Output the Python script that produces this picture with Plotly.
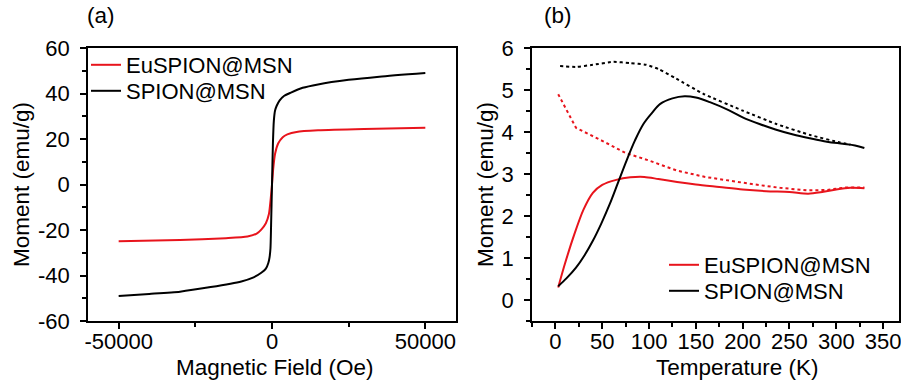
import plotly.graph_objects as go

# ---------------- Panel (a): hysteresis ----------------
field_spion = [-50000, -40000, -30000, -20000, -10000, -6000, -3500, -2000, -1200, -800, -500, -300, 0,
               300, 600, 1000, 1500, 2500, 4000, 6000, 10000, 15000, 25000, 35000, 50000]
moment_spion = [-49.0, -48.1, -47.1, -45.1, -42.6, -40.8, -38.8, -37.0, -34.5, -32.0, -28.0, -18.0, 0.0,
                18.0, 28.0, 32.5, 34.5, 37.0, 39.0, 40.3, 42.5, 44.0, 46.0, 47.4, 49.0]

field_eu = [-50000, -30000, -15000, -8000, -5000, -3500, -2000, -1000, -400, 0,
            400, 1000, 2000, 3500, 5000, 8000, 15000, 30000, 50000]
moment_eu = [-24.9, -24.4, -23.6, -22.9, -21.6, -19.8, -17.0, -13.0, -6.0, 0.0,
             7.0, 13.5, 18.0, 20.8, 22.0, 23.1, 23.8, 24.4, 24.9]

a_xticks = [-50000, 0, 50000]
a_xticktext = ["-50000", "0", "50000"]
a_yticks = [-60, -40, -20, 0, 20, 40, 60]
a_yticktext = ["-60", "-40", "-20", "0", "20", "40", "60"]

# ---------------- Panel (b): ZFC / FC ----------------
t_eu_zfc = [3, 10, 20, 30, 40, 50, 65, 80, 95, 110, 130, 150, 175, 200, 225, 250, 270, 285, 300, 315, 330]
m_eu_zfc = [0.3, 0.85, 1.55, 2.15, 2.55, 2.74, 2.86, 2.92, 2.93, 2.88, 2.81, 2.75, 2.69, 2.63, 2.59, 2.57,
            2.53, 2.57, 2.63, 2.67, 2.66]

t_eu_fc = [3, 22, 50, 75, 100, 130, 160, 185, 210, 240, 270, 290, 310, 330]
m_eu_fc = [4.9, 4.1, 3.79, 3.5, 3.32, 3.08, 2.93, 2.84, 2.76, 2.67, 2.61, 2.62, 2.68, 2.68]

t_sp_zfc = [3, 12, 22, 31, 40, 49, 58, 67, 76, 85, 94, 103, 112, 125, 138, 150, 165, 185, 200, 218, 235,
            254, 272, 290, 307, 320, 330]
m_sp_zfc = [0.33, 0.52, 0.77, 1.06, 1.41, 1.82, 2.28, 2.8, 3.32, 3.8, 4.19, 4.45, 4.67, 4.8, 4.85, 4.82, 4.71,
            4.52, 4.35, 4.19, 4.06, 3.94, 3.85, 3.77, 3.72, 3.68, 3.62]

t_sp_fc = [5, 22, 40, 62, 80, 97, 110, 129, 158, 200, 236, 272, 304, 315]
m_sp_fc = [5.57, 5.55, 5.6, 5.67, 5.64, 5.6, 5.5, 5.27, 4.91, 4.51, 4.19, 3.93, 3.75, 3.7]

b_xticks = [0, 50, 100, 150, 200, 250, 300, 350]
b_yticks = [0, 1, 2, 3, 4, 5, 6]

RED = "#e8141c"
BLACK = "#000000"
FONT = "Liberation Sans, Arial, sans-serif"

fig = go.Figure()

fig.add_trace(go.Scatter(x=field_eu, y=moment_eu, mode="lines", name="EuSPION@MSN",
                         line=dict(color=RED, width=2, shape="spline", smoothing=0.6),
                         xaxis="x", yaxis="y", legend="legend"))
fig.add_trace(go.Scatter(x=field_spion, y=moment_spion, mode="lines", name="SPION@MSN",
                         line=dict(color=BLACK, width=2, shape="spline", smoothing=0.6),
                         xaxis="x", yaxis="y", legend="legend3"))

fig.add_trace(go.Scatter(x=t_eu_fc, y=m_eu_fc, mode="lines", showlegend=False,
                         line=dict(color=RED, width=2, dash="dot"),
                         xaxis="x2", yaxis="y2"))
fig.add_trace(go.Scatter(x=t_sp_fc, y=m_sp_fc, mode="lines", showlegend=False,
                         line=dict(color=BLACK, width=2, dash="dot", shape="spline", smoothing=0.5),
                         xaxis="x2", yaxis="y2"))
fig.add_trace(go.Scatter(x=t_eu_zfc, y=m_eu_zfc, mode="lines", name="EuSPION@MSN",
                         line=dict(color=RED, width=2, shape="spline", smoothing=0.8),
                         xaxis="x2", yaxis="y2", legend="legend2"))
fig.add_trace(go.Scatter(x=t_sp_zfc, y=m_sp_zfc, mode="lines", name="SPION@MSN",
                         line=dict(color=BLACK, width=2, shape="spline", smoothing=1.0),
                         xaxis="x2", yaxis="y2", legend="legend4"))

axis_common = dict(showline=True, linecolor="black", linewidth=1.5, mirror=True,
                   ticks="outside", ticklen=6, tickwidth=1.5, tickcolor="black",
                   showgrid=False, zeroline=False, automargin=False, ticklabeloverflow="allow",
                   tickfont=dict(family=FONT, size=22, color="black"))
minor_common = dict(ticks="outside", ticklen=4, tickwidth=1.5, tickcolor="black", showgrid=False)
title_font = dict(family=FONT, size=22.5, color="black")

W, H = 901, 381
PLOT_TOP, PLOT_BOT = 48, 321
PH = PLOT_BOT - PLOT_TOP


def py(ypx):
    return (PLOT_BOT - ypx) / PH


def legend_at(xpx, ypx):
    return dict(x=xpx / W, y=py(ypx), xanchor="left", yanchor="middle", bgcolor="rgba(0,0,0,0)",
                font=dict(family=FONT, size=22, color="black"), tracegroupgap=0,
                itemwidth=30, borderwidth=0)


def text_at(text, xpx, ypx, anchor="center"):
    return dict(text=text, x=xpx / W, y=py(ypx), xref="paper", yref="paper",
                xanchor=anchor, yanchor="middle", showarrow=False, font=title_font)


fig.update_layout(
    width=W, height=H,
    margin=dict(l=0, r=0, t=PLOT_TOP, b=H - PLOT_BOT),
    paper_bgcolor="white", plot_bgcolor="white",
    font=dict(family=FONT, color="black"),
    xaxis=dict(domain=[88 / W, 456 / W], range=[-60000, 60000], tickmode="array",
               tickvals=a_xticks, ticktext=a_xticktext, ticklabelstandoff=-6,
               minor=dict(dtick=25000, tick0=0, **minor_common),
               anchor="y", **axis_common),
    yaxis=dict(domain=[0, 1], range=[-60, 60], tickmode="array",
               tickvals=a_yticks, ticktext=a_yticktext, ticklabelstandoff=6,
               minor=dict(dtick=10, tick0=0, **minor_common),
               title=dict(text="Moment (emu/g)", font=title_font, standoff=2),
               anchor="x", **axis_common),
    xaxis2=dict(domain=[532 / W, 899 / W], range=[-25, 367], tickmode="array",
                tickvals=b_xticks, ticklabelstandoff=-6,
                minor=dict(dtick=25, tick0=0, **minor_common),
                anchor="y2", **axis_common),
    yaxis2=dict(domain=[0, 1], range=[-0.5, 6], tickmode="array",
                tickvals=b_yticks, ticklabelstandoff=6,
                minor=dict(dtick=0.5, tick0=0, **minor_common),
                title=dict(text="Moment (emu/g)", font=title_font, standoff=2),
                anchor="x2", **axis_common),
    legend=legend_at(86, 65),
    legend3=legend_at(86, 91),
    legend2=legend_at(664, 265),
    legend4=legend_at(664, 291),
    annotations=[
        text_at("(a)", 85, 16, "left"),
        text_at("(b)", 542, 16, "left"),
        text_at("Magnetic Field (Oe)", 275, 367),
        text_at("Temperature (K)", 737, 367),
    ],
)

fig.write_html("out.html")
